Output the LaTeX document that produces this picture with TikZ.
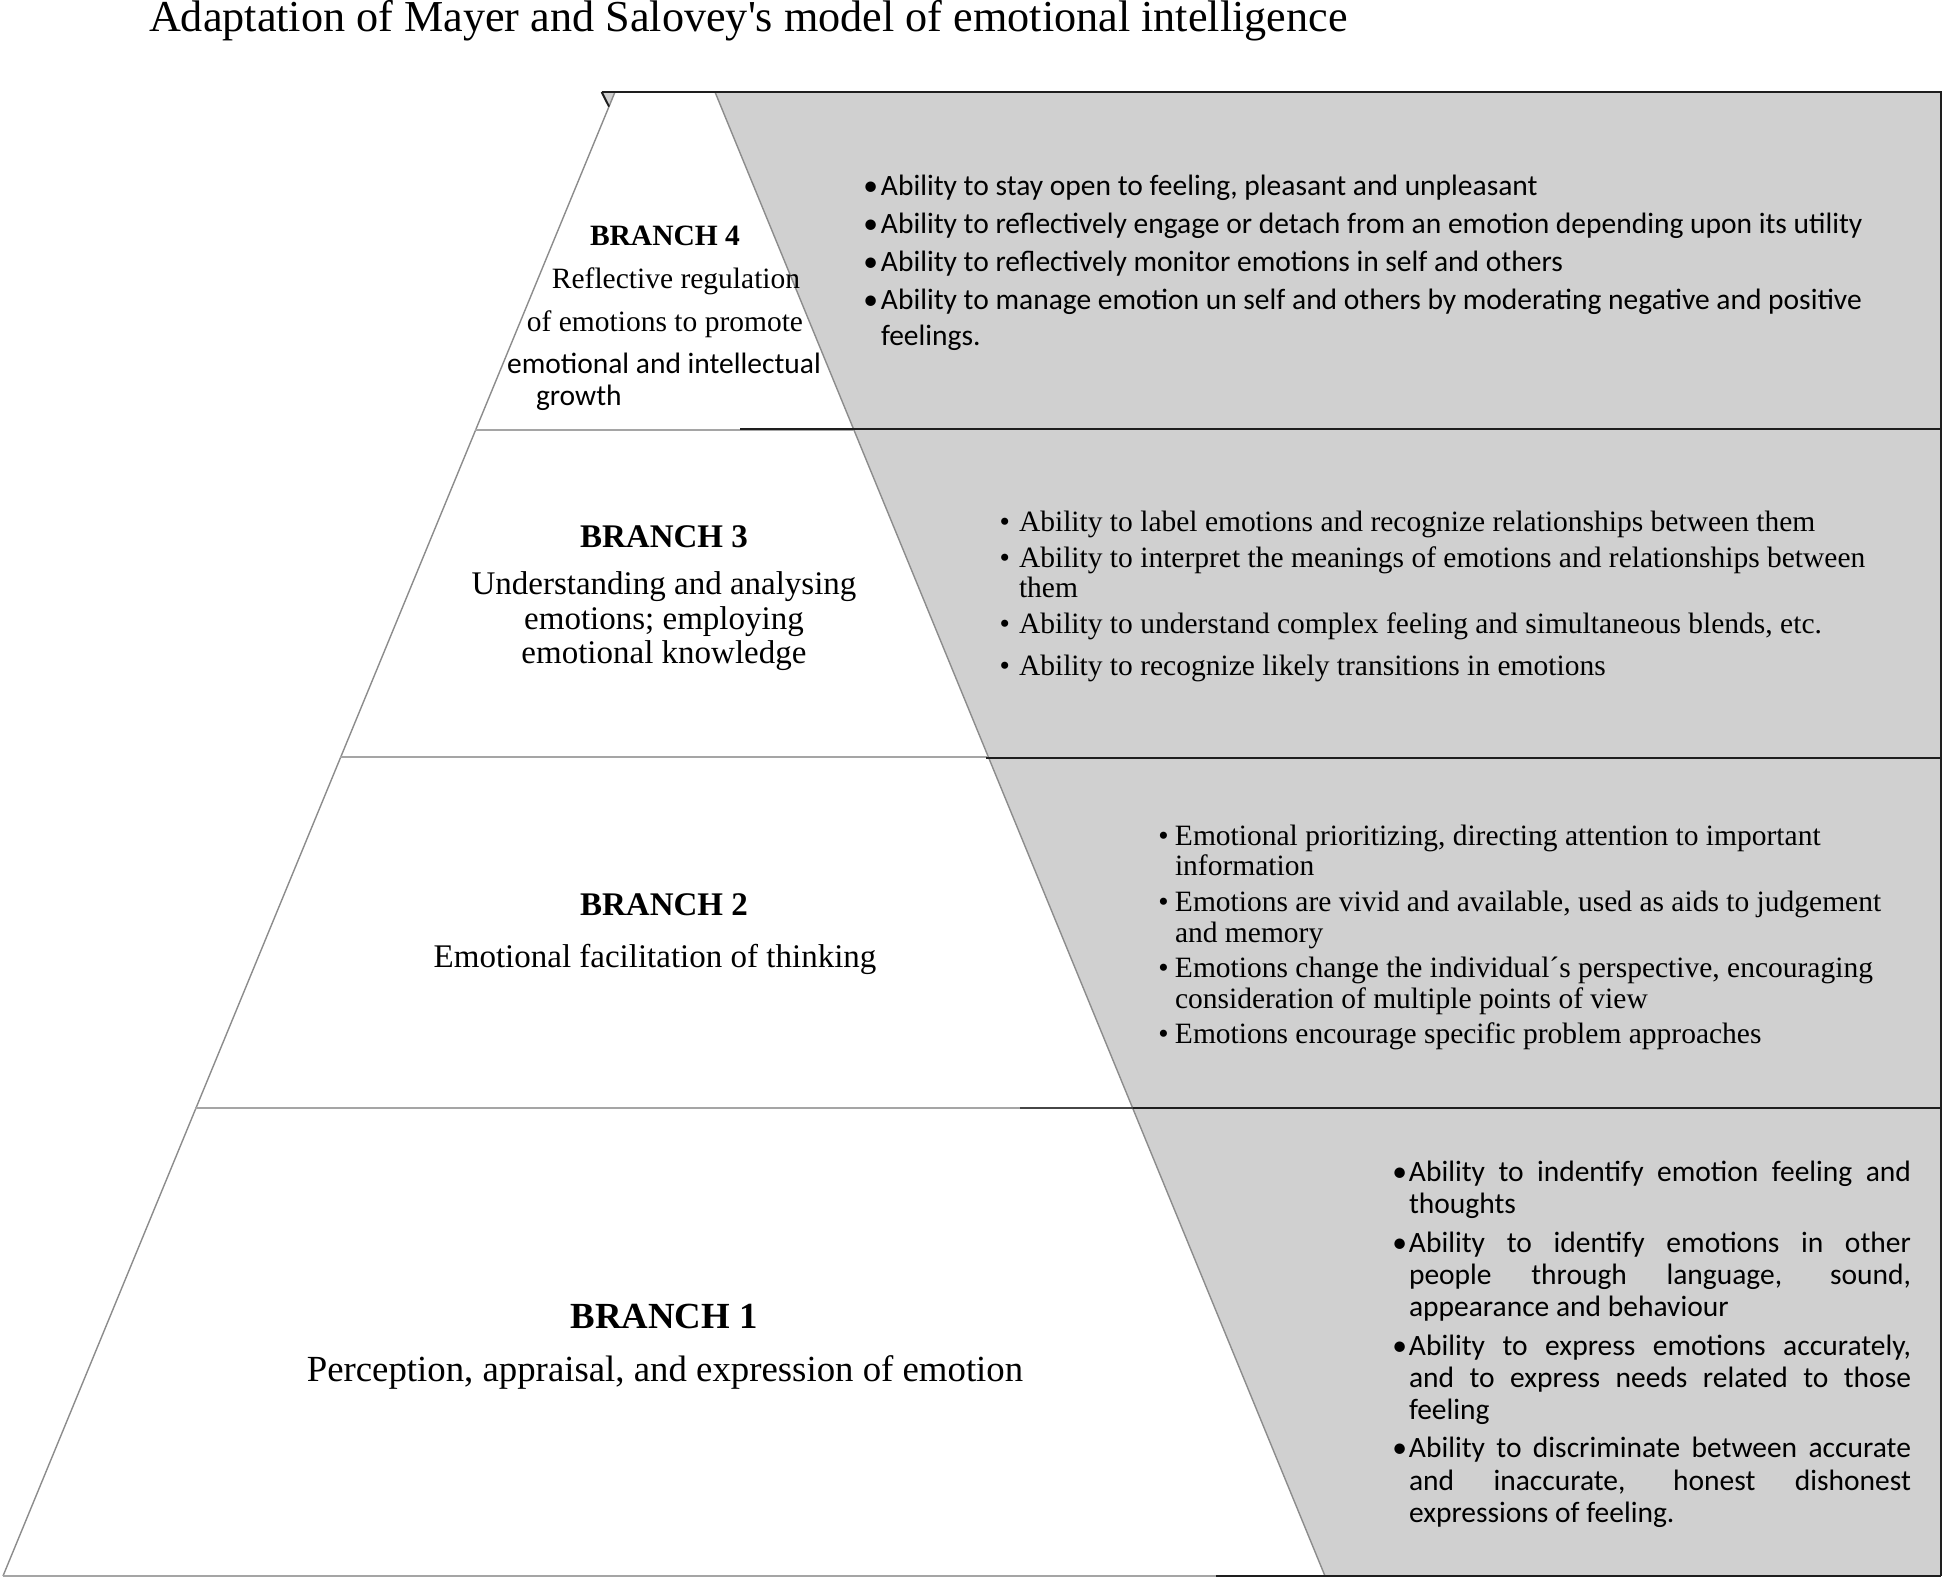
\documentclass[tikz,border=0pt]{standalone}
\usepackage{fontspec}
\setmainfont{Liberation Serif}
\newfontfamily\calfont{Carlito}
\definecolor{boxgray}{RGB}{208,208,208}
\definecolor{edgegray}{RGB}{140,140,140}
\definecolor{sepgray}{RGB}{165,165,165}
\definecolor{darkline}{RGB}{30,30,30}
\definecolor{midline}{RGB}{70,70,70}
\newcommand\bul[1]{\llap{•\hspace{#1}}}
\begin{document}
\begin{tikzpicture}[x=0.5pt,y=-0.5pt,
  tx/.style={inner sep=0pt,outer sep=0pt,anchor=base west},
  txc/.style={inner sep=0pt,outer sep=0pt,anchor=base},
  ttl/.style={font=\fontsize{22.1pt}{26pt}\selectfont},
  bfa/.style={font=\bfseries\fontsize{14.75pt}{17pt}\selectfont},
  bfb/.style={font=\bfseries\fontsize{16.5pt}{19pt}\selectfont},
  bfc/.style={font=\bfseries\fontsize{18.4pt}{21pt}\selectfont},
  sera/.style={font=\fontsize{14.75pt}{17pt}\selectfont},
  serb/.style={font=\fontsize{16.5pt}{19pt}\selectfont},
  serc/.style={font=\fontsize{18.4pt}{21pt}\selectfont},
  bultxt/.style={font=\fontsize{14.75pt}{17pt}\selectfont},
  caltxt/.style={font=\calfont\fontsize{14.75pt}{17pt}\selectfont},
  darkrule/.style={draw=darkline,line width=1pt},
  midrule/.style={draw=midline,line width=1pt},
  edgerule/.style={draw=edgegray,line width=0.7pt},
  seprule/.style={draw=sepgray,line width=1.1pt}]
\fill[white] (0,0) rectangle (1945,1580);
\path[use as bounding box] (0,0) rectangle (1945,1580);
% pyramid coordinates
\coordinate (TL) at (615,92);
\coordinate (TR) at (715,92);
\coordinate (BL) at (3,1576);
\coordinate (BR) at (1325,1576);
\coordinate (L1l) at (475.4,430); \coordinate (L1r) at (853.9,430);
\coordinate (L2l) at (340.4,757); \coordinate (L2r) at (988.3,757);
\coordinate (L3l) at (195.4,1108); \coordinate (L3r) at (1132.6,1108);
\coordinate (RT) at (1941,92);
\coordinate (RB) at (1941,1576);
% gray panels
\fill[boxgray] (TR) -- (RT) -- (RB) -- (BR) -- cycle;
\fill[boxgray] (601.7,92) -- (TL) -- (609,106.5) -- cycle;
% pyramid edges and level separators
\draw[edgerule] (TL) -- (BL);
\draw[edgerule] (TR) -- (BR);
\draw[seprule] (L1l) -- (L1r);
\draw[seprule] (L2l) -- (L2r);
\draw[seprule] (L3l) -- (L3r);
\draw[seprule] (BL) -- (BR);
% dark panel borders
\draw[darkrule] (601.7,92) -- (RT) -- (RB);
\draw[darkrule] (601.7,92) -- (609,106.5);
\draw[darkrule] (740,429) -- (1941,429);
\draw[darkrule] (986,758) -- (1941,758);
\draw[midrule] (1020,1108) -- (L3r);
\draw[darkrule] (L3r) -- (1941,1108);
\draw[darkrule] (1216,1576) -- (RB);
% title
\node[ttl,tx] (title) at (149,31) {Adaptation of Mayer and Salovey\textquotesingle s model of emotional intelligence};
% branch 4
\node[bfa,txc] (h4) at (665,245) {BRANCH 4};
\node[sera,txc] (h4a) at (676,288) {Reflective regulation};
\node[sera,txc] (h4b) at (665,331) {of emotions to promote};
\node[caltxt,txc] (h4c) at (664,373) {emotional and intellectual};
\node[caltxt,tx] (h4d) at (536,405) {growth};
\node[caltxt,tx] (p4a) at (881,195.5) {\bul{1.5pt}Ability to stay open to feeling, pleasant and unpleasant};
\node[caltxt,tx] (p4b) at (881,233.5) {\bul{1.5pt}Ability to reflectively engage or detach from an emotion depending upon its utility};
\node[caltxt,tx] (p4c) at (881,271.5) {\bul{1.5pt}Ability to reflectively monitor emotions in self and others};
\node[caltxt,tx] (p4d) at (881,309.5) {\bul{1.5pt}Ability to manage emotion un self and others by moderating negative and positive};
\node[caltxt,tx] (p4e) at (881,345.5) {feelings.};
% branch 3
\node[bfb,txc] (h3) at (664,547) {BRANCH 3};
\node[serb,txc] (h3a) at (664,594) {Understanding and analysing};
\node[serb,txc] (h3b) at (664,629) {emotions; employing};
\node[serb,txc] (h3c) at (664,663) {emotional knowledge};
\node[bultxt,tx] (p3a) at (1019,531) {\bul{4.5pt}Ability to label emotions and recognize relationships between them};
\node[bultxt,tx] (p3b) at (1019,567) {\bul{4.5pt}Ability to interpret the meanings of emotions and relationships between};
\node[bultxt,tx] (p3c) at (1019,597) {them};
\node[bultxt,tx] (p3d) at (1019,633) {\bul{4.5pt}Ability to understand complex feeling and simultaneous blends, etc.};
\node[bultxt,tx] (p3e) at (1019,675) {\bul{4.5pt}Ability to recognize likely transitions in emotions};
% branch 2
\node[bfb,txc] (h2) at (664,915) {BRANCH 2};
\node[serb,txc] (h2a) at (655,967) {Emotional facilitation of thinking};
\node[bultxt,tx] (p2a) at (1175,845) {\bul{3.2pt}Emotional prioritizing, directing attention to important};
\node[bultxt,tx] (p2b) at (1175,875) {information};
\node[bultxt,tx] (p2c) at (1175,911) {\bul{3.2pt}Emotions are vivid and available, used as aids to judgement};
\node[bultxt,tx] (p2d) at (1175,942) {and memory};
\node[bultxt,tx] (p2e) at (1175,977) {\bul{3.2pt}Emotions change the individual´s perspective, encouraging};
\node[bultxt,tx] (p2f) at (1175,1008) {consideration of multiple points of view};
\node[bultxt,tx] (p2g) at (1175,1043) {\bul{3.2pt}Emotions encourage specific problem approaches};
% branch 1
\node[bfc,txc] (h1) at (664,1328) {BRANCH 1};
\node[serc,txc] (h1a) at (665,1381) {Perception, appraisal, and expression of emotion};
\node[caltxt,tx] (p1a) at (1409,1181) {\bul{1pt}\makebox[251pt][s]{Ability to indentify emotion feeling and}};
\node[caltxt,tx] (p1b) at (1409,1213) {thoughts};
\node[caltxt,tx] (p1c) at (1409,1252) {\bul{1pt}\makebox[251pt][s]{Ability to identify emotions in other}};
\node[caltxt,tx] (p1d) at (1409,1284) {\makebox[251pt][s]{people through language, sound,}};
\node[caltxt,tx] (p1e) at (1409,1316) {appearance and behaviour};
\node[caltxt,tx] (p1f) at (1409,1355) {\bul{1pt}\makebox[251pt][s]{Ability to express emotions accurately,}};
\node[caltxt,tx] (p1g) at (1409,1387) {\makebox[251pt][s]{and to express needs related to those}};
\node[caltxt,tx] (p1h) at (1409,1419) {feeling};
\node[caltxt,tx] (p1i) at (1409,1457) {\bul{1pt}\makebox[251pt][s]{Ability to discriminate between accurate}};
\node[caltxt,tx] (p1j) at (1409,1490) {\makebox[251pt][s]{and inaccurate, honest dishonest}};
\node[caltxt,tx] (p1k) at (1409,1522) {expressions of feeling.};
\end{tikzpicture}
\end{document}
